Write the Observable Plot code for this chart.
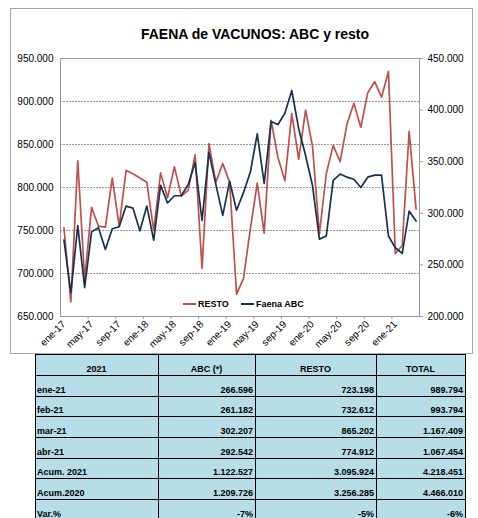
<!DOCTYPE html>
<html><head><meta charset="utf-8">
<script src="https://cdn.jsdelivr.net/npm/d3@7"></script>
<script src="https://cdn.jsdelivr.net/npm/@observablehq/plot@0.6"></script>
<style>
body{margin:0;background:#fff;font-family:"Liberation Sans",Arial,sans-serif;}
#wrap{position:relative;width:478px;height:518px;overflow:hidden;}
#frame{position:absolute;left:10px;top:8px;width:461px;height:344px;border:1px solid #a6a6a6;}
#chart{position:absolute;left:0;top:0;}
#title{position:absolute;left:94px;width:300px;top:18px;line-height:14px;text-align:center;font-weight:bold;font-size:14px;color:#000;white-space:nowrap;}
.leg{position:absolute;top:290px;font-size:9px;font-weight:bold;line-height:10px;white-space:nowrap;color:#000;}
.sw{display:inline-block;width:13px;height:2px;vertical-align:middle;margin-right:2px;position:relative;top:-1px;}
#tbl{position:absolute;left:35px;top:354px;border-collapse:collapse;table-layout:fixed;width:430px;}
#tbl td,#tbl th{border:1.5px solid #000;background:#b7dde8;font-size:9px;font-weight:bold;vertical-align:bottom;padding:0 2px 1px 1px;height:18.7px;line-height:10px;white-space:nowrap;overflow:hidden;color:#000;}
#tbl th{text-align:center;height:19px;}
#tbl td.n{text-align:right;}
#tbl td.l{text-align:left;}
</style>
</head><body>
<div id="wrap">
  <div id="frame">
    <div id="chart"></div>
    <div id="title">FAENA de VACUNOS: ABC y resto</div>
    <div class="leg" style="left:172px"><span class="sw" style="background:#c0504d"></span>RESTO</div>
    <div class="leg" style="left:230px"><span class="sw" style="background:#17324f"></span>Faena ABC</div>
  </div>
  <table id="tbl"></table>
</div>
<script>
// ---- chart data ----
const months = ["ene-17","feb-17","mar-17","abr-17","may-17","jun-17","jul-17","ago-17","sep-17","oct-17","nov-17","dic-17",
"ene-18","feb-18","mar-18","abr-18","may-18","jun-18","jul-18","ago-18","sep-18","oct-18","nov-18","dic-18",
"ene-19","feb-19","mar-19","abr-19","may-19","jun-19","jul-19","ago-19","sep-19","oct-19","nov-19","dic-19",
"ene-20","feb-20","mar-20","abr-20","may-20","jun-20","jul-20","ago-20","sep-20","oct-20","nov-20","dic-20",
"ene-21","feb-21","mar-21","abr-21"];
const resto = [753000,667000,831000,693000,777000,755000,754000,811000,755000,820000,816000,811000,
806000,750000,817000,788000,824000,790000,797000,838000,706000,851000,806000,828000,
806000,676000,694000,752000,805000,747000,878000,835000,808000,886000,833000,890000,
848000,746000,816000,849000,830000,874000,898000,870000,910000,923000,905000,935000,
723198,732612,865202,774912];
const abc = [274000,223000,288000,228000,282000,286000,265000,285000,287000,307000,305000,283000,
307000,274000,327000,310000,317000,317000,328000,349000,293000,359000,328000,298000,
331000,303000,320000,340000,377000,329000,389000,386000,397000,419000,382000,356000,
327000,275000,278000,332000,338000,335000,333000,325000,335000,337000,337000,278000,
266596,261182,302207,292542];
const leftTicks = [650000,700000,750000,800000,850000,900000,950000];
const rightTicks = [200000,250000,300000,350000,400000,450000];
const gridTicks = [700000,750000,800000,850000,900000];
const labelIdx = [0,4,8,12,16,20,24,28,32,36,40,44,48];
const boundaryIdx = [3.5,7.5,11.5,15.5,19.5,23.5,27.5,31.5,35.5,39.5,43.5,47.5];

// ---- table data ----
const tHead = ["2021","ABC (*)","RESTO","TOTAL"];
const tRows = ["ene-21","feb-21","mar-21","abr-21","Acum. 2021","Acum.2020","Var.%"];
const tAbc = ["266.596","261.182","302.207","292.542","1.122.527","1.209.726","-7%"];
const tResto = ["723.198","732.612","865.202","774.912","3.095.924","3.256.285","-5%"];
const tTotal = ["989.794","993.794","1.167.409","1.067.454","4.218.451","4.466.010","-6%"];

const fmt = d3.formatLocale({decimal:",", thousands:".", grouping:[3], currency:["$",""]}).format(",.0f");
const toLeft = v => 650000 + (v - 200000) * 1.2;
const fromLeft = y => 200000 + (y - 650000) / 1.2;
const data = months.map((m, i) => ({i, m, resto: resto[i], abc: abc[i]}));

const chart = Plot.plot({
  width: 461, height: 344,
  marginLeft: 49, marginRight: 53, marginTop: 49, marginBottom: 37,
  style: {fontFamily: '"Liberation Sans", Arial, sans-serif', fontSize: "10px", color: "#000", background: "transparent", overflow: "visible"},
  x: {type: "linear", domain: [-0.5, 51.5], axis: null, label: null},
  y: {domain: [650000, 950000], axis: null, label: null},
  marks: [
    Plot.gridY(gridTicks, {stroke: "#9a9a9a", strokeOpacity: 1, strokeDasharray: "2,1"}),
    Plot.frame({stroke: "#9a9a9a"}),
    Plot.axisY(leftTicks, {anchor: "left", label: null, tickSize: 0, tickPadding: 7, tickFormat: fmt}),
    Plot.axisY(rightTicks.map(toLeft), {anchor: "right", label: null, tickSize: 3, stroke: "#9a9a9a", tickPadding: 5, tickFormat: d => fmt(fromLeft(d))}),
    Plot.axisX(boundaryIdx, {anchor: "bottom", label: null, tickSize: 3, stroke: "#9a9a9a", tickFormat: () => ""}),
    Plot.axisX(labelIdx, {anchor: "bottom", label: null, tickSize: 0, tickPadding: 6, tickRotate: -45, tickFormat: i => months[i]}),
    Plot.line(data, {x: "i", y: "resto", stroke: "#c0504d", strokeWidth: 1.7}),
    Plot.line(data, {x: "i", y: d => toLeft(d.abc), stroke: "#17324f", strokeWidth: 1.7})
  ]
});
document.getElementById("chart").appendChild(chart);

// table
const tbl = document.getElementById("tbl");
const cg = document.createElement("colgroup");
[123, 97, 121, 89].forEach(w => { const c = document.createElement("col"); c.style.width = w + "px"; cg.appendChild(c); });
tbl.appendChild(cg);
const hr = document.createElement("tr");
tHead.forEach(h => { const th = document.createElement("th"); th.textContent = h; hr.appendChild(th); });
tbl.appendChild(hr);
tRows.forEach((r, k) => {
  const tr = document.createElement("tr");
  [[r, "l"], [tAbc[k], "n"], [tResto[k], "n"], [tTotal[k], "n"]].forEach(([v, c]) => {
    const td = document.createElement("td"); td.className = c; td.textContent = v; tr.appendChild(td);
  });
  tbl.appendChild(tr);
});
</script>
</body></html>
